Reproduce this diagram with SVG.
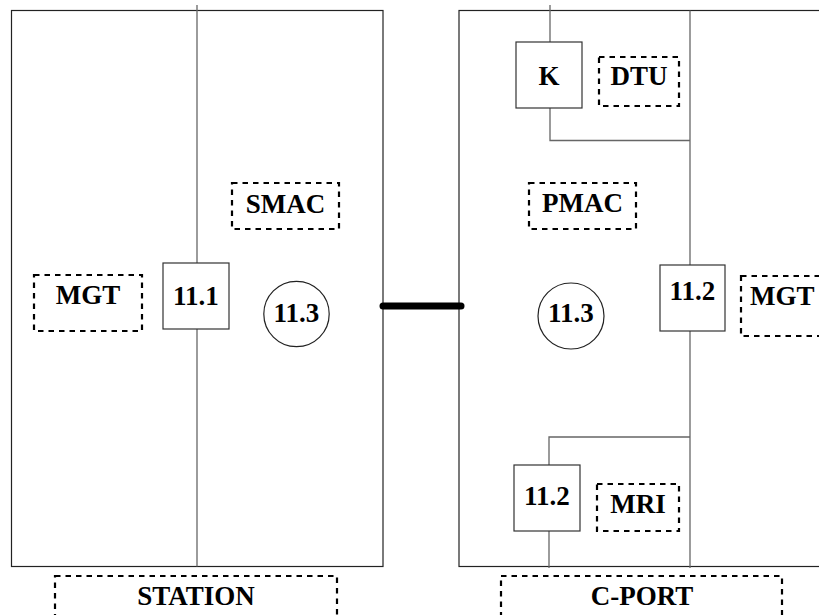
<svg xmlns="http://www.w3.org/2000/svg" width="819" height="615" viewBox="0 0 819 615">
<style>
.frame{fill:none;stroke:#222;stroke-width:1.2}
.ln{fill:none;stroke:#666;stroke-width:1.3}
.box{fill:#fff;stroke:#333;stroke-width:1.2}
.dash{fill:none;stroke:#000;stroke-width:2.2;stroke-dasharray:5.5,5}
.circ{fill:#fff;stroke:#222;stroke-width:1.2}
text{font-family:'Liberation Serif','DejaVu Serif','Times New Roman',serif;font-weight:bold;font-size:27px;fill:#000}
.c{text-anchor:middle}
</style>
<rect width="819" height="615" fill="#fff"/>
<g id="station">
<rect class="frame" x="11.5" y="10.5" width="371.5" height="556"/>
</g>
<g id="cport">
<rect class="frame" x="459" y="10.5" width="380" height="556"/>
</g>
<g id="connectors">
<line class="ln" x1="197" y1="5" x2="197" y2="566.5"/>
<line class="ln" x1="690" y1="10.5" x2="690" y2="568"/>
<line class="ln" x1="550" y1="5" x2="550" y2="42"/>
<polyline class="ln" points="550,108 550,140.5 690,140.5"/>
<polyline class="ln" points="690,437 549,437 549,465"/>
<line class="ln" x1="549" y1="531" x2="549" y2="568"/>
<line x1="383" y1="306" x2="461" y2="306" stroke="#000" stroke-width="7" stroke-linecap="round"/>
</g>
<g id="n111"><rect class="box" x="163" y="263" width="66" height="66"/><text class="c" x="196" y="305">11.1</text></g>
<g id="mgt-left"><rect class="dash" x="34" y="275" width="108" height="56"/><text class="c" x="88" y="304">MGT</text></g>
<g id="smac"><rect class="dash" x="232" y="183" width="107" height="46"/><text class="c" x="285.5" y="213">SMAC</text></g>
<g id="n113-left"><circle class="circ" cx="296.5" cy="314" r="32.7"/><text class="c" x="296.5" y="322">11.3</text></g>
<g id="station-label"><rect class="dash" x="55" y="576" width="282" height="60"/><text class="c" x="196" y="605">STATION</text></g>
<g id="k"><rect class="box" x="516" y="42" width="66" height="66"/><text class="c" x="549" y="85">K</text></g>
<g id="dtu"><rect class="dash" x="599" y="57" width="80" height="49"/><text class="c" x="639" y="85">DTU</text></g>
<g id="pmac"><rect class="dash" x="529" y="183" width="107" height="46"/><text class="c" x="582.5" y="212">PMAC</text></g>
<g id="n113-right"><circle class="circ" cx="571" cy="316" r="33"/><text class="c" x="571" y="322">11.3</text></g>
<g id="n112-right"><rect class="box" x="660" y="265" width="65" height="66"/><text class="c" x="692.5" y="300">11.2</text></g>
<g id="mgt-right"><rect class="dash" x="741" y="276" width="100" height="60"/><text x="750" y="305">MGT</text></g>
<g id="n112-low"><rect class="box" x="514" y="465" width="66" height="66"/><text class="c" x="547" y="505">11.2</text></g>
<g id="mri"><rect class="dash" x="597" y="484" width="82" height="47"/><text class="c" x="638" y="513">MRI</text></g>
<g id="cport-label"><rect class="dash" x="501" y="576" width="281" height="60"/><text class="c" x="642" y="605">C-PORT</text></g>
</svg>
